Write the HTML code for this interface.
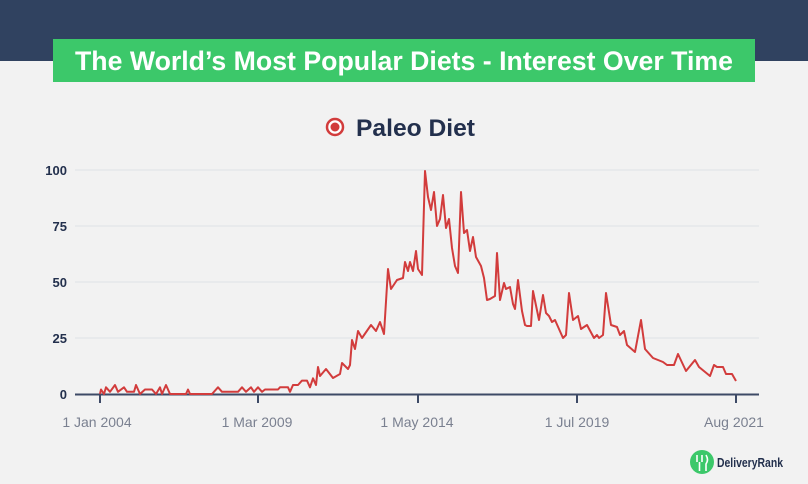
<!DOCTYPE html>
<html><head><meta charset="utf-8"><style>
html,body{margin:0;padding:0;background:#f2f2f2;}
svg{display:block;font-family:"Liberation Sans",sans-serif;}
</style></head><body>
<svg width="808" height="484" viewBox="0 0 808 484">
<rect width="808" height="484" fill="#f2f2f2"/>
<rect width="808" height="61" fill="#304260"/>
<rect x="53" y="39" width="702" height="43" fill="#3cc86a"/>
<text x="404" y="70" text-anchor="middle" fill="#fff" font-weight="bold" font-size="27" textLength="658" lengthAdjust="spacingAndGlyphs">The World’s Most Popular Diets - Interest Over Time</text>
<circle cx="335" cy="127" r="8" fill="#fff" stroke="#d23c3c" stroke-width="2.5"/>
<circle cx="335" cy="127" r="4.5" fill="#d23c3c"/>
<text x="356" y="136" fill="#23304d" font-weight="bold" font-size="24" textLength="119" lengthAdjust="spacingAndGlyphs">Paleo Diet</text>
<g stroke="#dfe2e6" stroke-width="1">
<line x1="75" y1="170" x2="759" y2="170"/><line x1="75" y1="226" x2="759" y2="226"/>
<line x1="75" y1="282" x2="759" y2="282"/><line x1="75" y1="338" x2="759" y2="338"/>
</g>
<g fill="#23304d" font-weight="bold" font-size="13" text-anchor="end">
<text x="67" y="175">100</text><text x="67" y="231">75</text><text x="67" y="287">50</text><text x="67" y="343">25</text><text x="67" y="399">0</text>
</g>
<line x1="75" y1="394.5" x2="759" y2="394.5" stroke="#3d4a66" stroke-width="2"/>
<g stroke="#3d4a66" stroke-width="2">
<line x1="100" y1="394" x2="100" y2="403"/><line x1="258" y1="394" x2="258" y2="403"/>
<line x1="418" y1="394" x2="418" y2="403"/><line x1="577" y1="394" x2="577" y2="403"/><line x1="736" y1="394" x2="736" y2="403"/>
</g>
<g fill="#7a8090" font-size="14" text-anchor="middle">
<text x="97" y="427">1 Jan 2004</text><text x="257" y="427">1 Mar 2009</text><text x="417" y="427">1 May 2014</text><text x="577" y="427">1 Jul 2019</text><text x="734" y="427">Aug 2021</text>
</g>
<polyline fill="none" stroke="#d23c3c" stroke-width="2" stroke-linejoin="round" points="
100,394 101,389.5 104,394 106,387.3 110,391.8 115,385 118,391.8 124,387.3 127,391.8 134,391.8 136,385 140,394 145,389.5 152,389.5 156,394 160,387.3 162,394 166,385 170,394 186,394 188,389.5 190,394 212,394 218,387.3 222,391.8 238,391.8 242,387.3 246,391.8 251,387.3 254,391.8 258,387.3 262,391.8 265,389.5 278,389.5 280,387.3 288,387.3 290,391.8 293,385 298,385 302,380.6 307,380.6 310,387.3 313,378.3 316,385 318,367 320,376 326,369 333,378 340,374 342,363 348,369 350,365 352,340 355,349 358,331 362,338 371,325 376,331 380,322 384,334 388,269 391,289 397,280 403,278 405,262 408,271 410,262 413,271 416,251 418,269 422,275 425,171 428,197 431,210 434,192 437,226 440,219 443,195 446,228 449,219 452,248 455,266 458,273 461,192 464,233 467,230 470,251 473,237 476,257 481,266 484,278 487,300 490,299 495,296 497,253 500,300 504,283 506,289 510,287 513,304 515,309 518,280 522,311 525,325 527,326 531,326 533,291 539,320 543,295 546,313 549,316 552,322 555,320 563,338 566,335 569,293 573,320 578,316 581,329 587,325 594,338 597,335 599,338 603,335 606,293 611,325 617,327 620,335 624,331 627,345 635,352 641,320 645,349 653,358 663,362 667,365 674,365 678,354 686,371 695,360 699,367 710,376 714,365 717,367 723,367 726,374 732,374 736,381"/>
<circle cx="702" cy="462" r="12" fill="#3cc86a"/>
<path d="M697 455 v7 M702 455 v7 M699.5 462 v9 M706 455 q3 5 0 9 v7" stroke="#fff" stroke-width="1.6" fill="none"/>
<text x="717" y="467" fill="#23304d" font-weight="bold" font-size="13" textLength="66" lengthAdjust="spacingAndGlyphs">DeliveryRank</text>
</svg>
</body></html>
